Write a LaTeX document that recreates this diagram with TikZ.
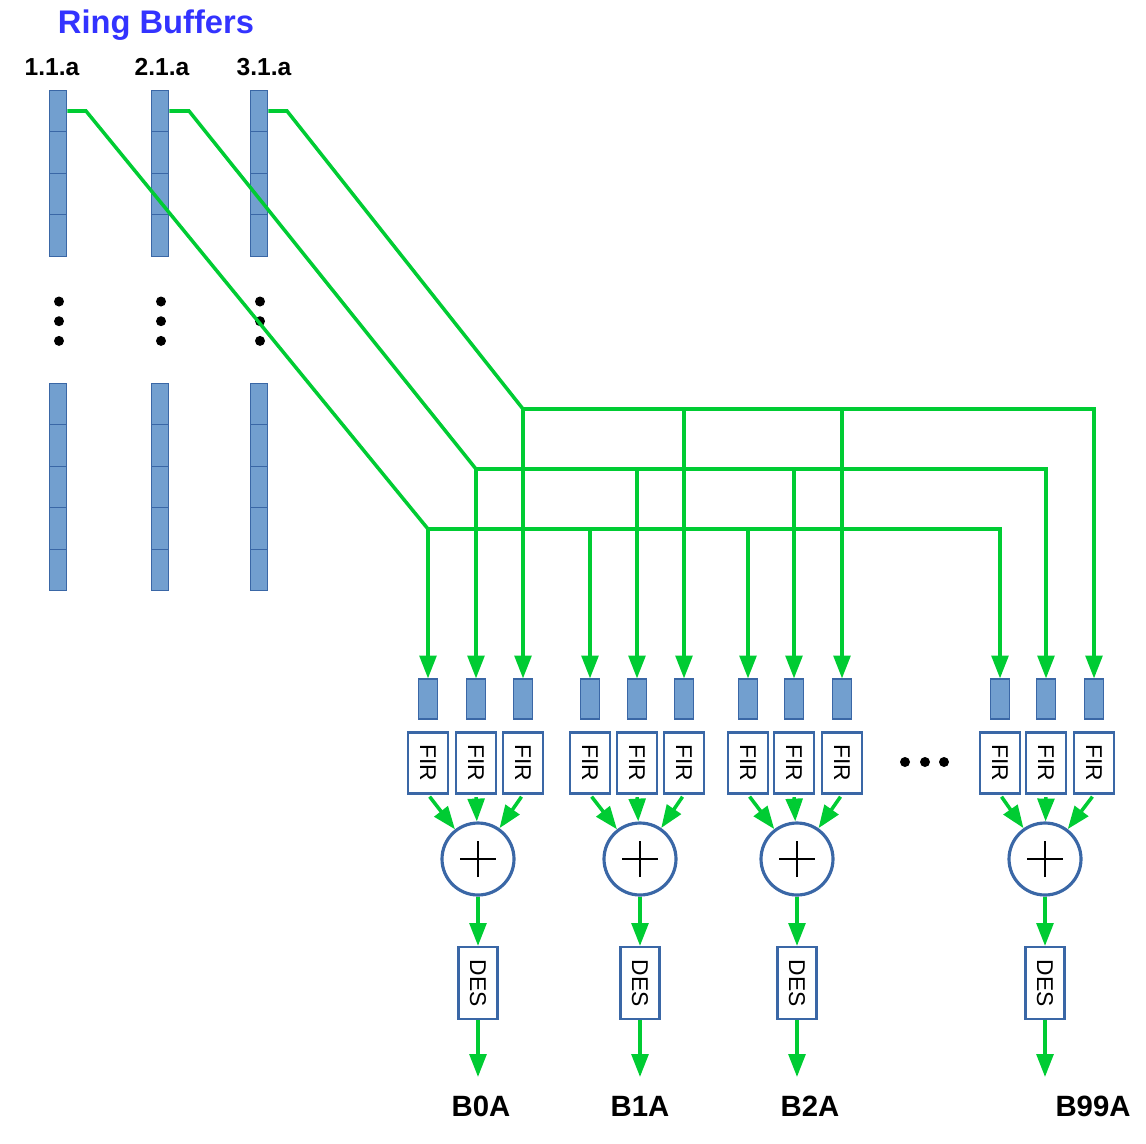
\documentclass[tikz,border=0pt]{standalone}
\usepackage{fontspec}
\setmainfont{Liberation Sans}
\usepackage{graphicx}
\definecolor{ringblue}{HTML}{729FCF}
\definecolor{edgeblue}{HTML}{3A67A6}
\definecolor{wiregreen}{HTML}{00CC33}
\definecolor{titleblue}{HTML}{3333FF}
\usetikzlibrary{arrows.meta, positioning}

\begin{document}
\begin{tikzpicture}[x=0.02cm, y=-0.02cm,
    cel/.style={draw=edgeblue, fill=ringblue, line width=0.6pt,
                minimum width=0.35cm, minimum height=0.83cm, inner sep=0pt},
    tap/.style={cel, minimum width=0.38cm, minimum height=0.8cm},
    fir/.style={draw=edgeblue, fill=white, line width=1.2pt,
                minimum width=0.8cm, minimum height=1.22cm, inner sep=0pt,
                font=\fontsize{13}{13}\selectfont},
    des/.style={fir, minimum width=0.78cm, minimum height=1.44cm},
    sum/.style={circle, draw=edgeblue, fill=white, line width=1.8pt,
                minimum size=1.44cm, inner sep=0pt,
                path picture={\draw[black, line width=0.85pt]
                  ([xshift=-0.36cm]path picture bounding box.center) --
                  ([xshift=0.36cm]path picture bounding box.center)
                  ([yshift=-0.36cm]path picture bounding box.center) --
                  ([yshift=0.36cm]path picture bounding box.center);}},
    flow/.style={wiregreen, line width=2pt},
    arr/.style={flow, -{Triangle[length=13pt, width=9.5pt]}},
    blob/.style={circle, fill=black, minimum size=0.2cm, inner sep=0pt},
    lbl/.style={anchor=base, font=\fontsize{14}{14}\selectfont\bfseries},
    outlbl/.style={anchor=base, font=\fontsize{16.7}{16.7}\selectfont\bfseries}
  ]
  \useasboundingbox (0,0) rectangle (1146,1143);

  % ring buffers
  \node[anchor=base, text=titleblue, font=\fontsize{18.6}{18.6}\selectfont\bfseries]
    (ttl) at (156,33) {Ring Buffers};
  \node[lbl] (hd1) at (52,75) {1.1.a};
  \node[lbl] (hd2) at (162,75) {2.1.a};
  \node[lbl] (hd3) at (264,75) {3.1.a};

  \foreach \c/\x in {1/58, 2/160, 3/259}{
    \foreach \i in {0,...,3}
      \node[cel] (rb\c\i) at (\x,{111+41.5*\i}) {};
    \foreach \i in {4,...,8}
      \node[cel] (rb\c\i) at (\x,{404+41.5*(\i-4)}) {};
    \foreach \i in {0,1,2}
      \node[blob] at (\x+1,{301.5+19.7*\i}) {};
  }

  % trunks
  \coordinate (k1) at (86,111);
  \coordinate (k2) at (189,111);
  \coordinate (k3) at (287,111);
  \coordinate (t1) at (428,529);
  \coordinate (t2) at (476,469);
  \coordinate (t3) at (523,409);

  \draw[flow] (rb10.east) -- (k1) -- (t1);
  \draw[flow] (rb20.east) -- (k2) -- (t2);
  \draw[flow] (rb30.east) -- (k3) -- (t3);

  % beam groups
  \foreach \g/\xa/\xb/\xc/\xs in {1/428/476/523/478, 2/590/637/684/640,
                                  3/748/794/842/797, 4/1000/1046/1094/1045}{
    \node[tap] (tp\g1) at (\xa,699) {};
    \node[tap] (tp\g2) at (\xb,699) {};
    \node[tap] (tp\g3) at (\xc,699) {};
    \node[fir] (fr\g1) at (\xa,763) {\rotatebox{-90}{FIR}};
    \node[fir] (fr\g2) at (\xb,763) {\rotatebox{-90}{FIR}};
    \node[fir] (fr\g3) at (\xc,763) {\rotatebox{-90}{FIR}};
    \node[sum] (sm\g) at (\xs,859) {};
    \node[des] (ds\g) at (\xs,983) {\rotatebox{-90}{DES}};
    \coordinate (o\g) at (\xs,1077);

    \draw[arr] (t1) -| (tp\g1.north);
    \draw[arr] (t2) -| (tp\g2.north);
    \draw[arr] (t3) -| (tp\g3.north);
    \foreach \k in {1,2,3}
      \draw[arr, shorten <=1.5pt] (fr\g\k.south) -- (sm\g);
    \draw[arr] (sm\g) -- (ds\g);
    \draw[arr] (ds\g) -- (o\g);
  }

  \node[blob] (e1) at (905,762) {};
  \node[blob] (e2) at (925,762) {};
  \node[blob] (e3) at (944,762) {};

  \node[outlbl] (b0) at (481,1116) {B0A};
  \node[outlbl] (b1) at (640,1116) {B1A};
  \node[outlbl] (b2) at (810,1116) {B2A};
  \node[outlbl] (b99) at (1093,1116) {B99A};
\end{tikzpicture}
\end{document}
